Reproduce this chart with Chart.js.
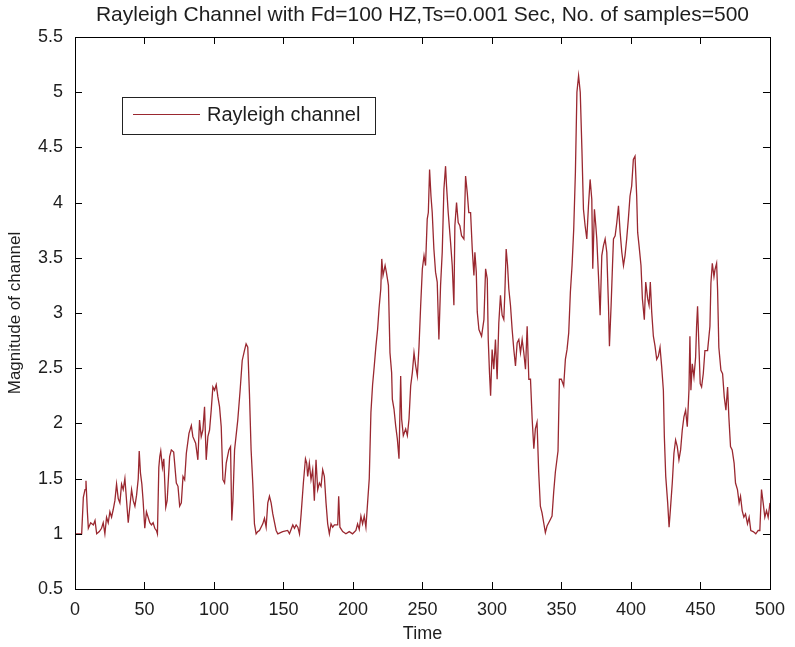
<!DOCTYPE html>
<html>
<head>
<meta charset="utf-8">
<script src="https://cdn.jsdelivr.net/npm/chart.js@4.4.0/dist/chart.umd.min.js"></script>
<style>
  html, body { margin: 0; padding: 0; background: #ffffff; }
  #wrap { width: 795px; height: 647px; }
</style>
</head>
<body>
<div id="wrap"><canvas id="c" width="795" height="647"></canvas></div>
<script>
const chartTitle = "Rayleigh Channel with Fd=100 HZ,Ts=0.001 Sec, No. of samples=500";
const seriesLabel = "Rayleigh channel";
const xTitle = "Time";
const yTitle = "Magnitude of channel";
const xTicks = [0, 50, 100, 150, 200, 250, 300, 350, 400, 450, 500];
const yTicks = [0.5, 1, 1.5, 2, 2.5, 3, 3.5, 4, 4.5, 5, 5.5];

const time = [
  0, 4.8, 6.0, 7.2, 7.9, 8.9, 9.6, 11.3, 13.2, 14.4, 15.6, 17.5, 19.1, 20.3, 21.5, 22.7, 23.9, 25.1, 26.3, 27.5,
  28.7, 29.9, 31.1, 32.3, 33.5, 34.7, 35.9, 37.1, 38.3, 39.5, 40.7, 41.9, 43.1, 44.3, 45.5, 46.2, 47.1, 48.1, 49.0, 50.2,
  51.4, 52.6, 53.8, 55.0, 56.2, 57.4, 58.6, 59.3, 60.3, 61.0, 61.7, 62.9, 63.9, 65.3, 66.3, 67.2, 68.1, 69.3, 71.0, 72.9,
  74.1, 75.3, 76.5, 77.7, 78.9, 80.1, 82.0, 83.7, 84.8, 86.8, 88.4, 89.6, 90.8, 92.0, 93.2, 94.4, 95.6, 96.8, 98.0, 99.2,
  100.4, 101.6, 102.8, 104.0, 105.2, 106.4, 107.6, 108.8, 110.7, 111.9, 112.8, 113.6, 114.8, 117.1, 118.8, 120.3, 121.9, 123.1, 124.3, 125.5,
  126.7, 127.9, 129.1, 130.3, 131.5, 132.7, 135.1, 136.3, 137.5, 138.7, 139.9, 141.1, 142.3, 144.7, 145.9, 149.4, 153.0, 154.3, 156.7, 157.9,
  159.1, 160.3, 161.5, 162.7, 164.3, 165.8, 166.7, 167.4, 168.6, 169.8, 171.0, 172.2, 173.4, 174.6, 175.8, 177.0, 178.2, 179.4, 180.6, 181.8,
  183.0, 184.2, 185.4, 186.6, 189.0, 189.7, 190.6, 192.6, 194.9, 197.3, 199.7, 202.1, 203.3, 204.5, 205.7, 206.9, 208.1, 209.3, 210.5, 211.7,
  212.9, 214.1, 215.3, 216.5, 217.7, 218.8, 220.0, 220.7, 221.6, 223.1, 224.0, 225.5, 226.6, 227.8, 228.3, 229.5, 230.7, 231.9, 233.1, 234.3,
  235.0, 236.2, 237.9, 239.1, 240.3, 241.5, 242.7, 243.9, 245.1, 246.3, 247.5, 248.7, 249.9, 251.1, 252.2, 253.4, 254.2, 255.1, 256.1, 257.0,
  258.2, 259.4, 260.6, 261.8, 263.0, 264.2, 265.4, 266.6, 267.3, 268.5, 270.2, 271.4, 272.6, 273.3, 274.5, 275.7, 276.9, 278.1, 279.8, 281.0,
  282.2, 283.3, 284.6, 285.8, 287.0, 287.7, 288.7, 289.4, 290.6, 292.5, 294.2, 295.4, 296.6, 297.3, 298.2, 299.0, 300.1, 301.3, 302.5, 303.7,
  304.9, 306.1, 307.3, 308.5, 309.2, 310.2, 311.2, 312.1, 313.3, 314.5, 315.7, 316.9, 318.1, 319.3, 320.5, 321.7, 322.9, 324.1, 325.3, 326.5,
  327.7, 328.9, 330.1, 331.2, 332.4, 333.6, 334.8, 336.0, 337.2, 338.4, 339.6, 340.8, 342.0, 343.2, 344.4, 345.6, 346.8, 347.5, 348.5, 349.9,
  351.6, 352.8, 354.0, 355.2, 356.4, 357.6, 358.8, 360.0, 361.1, 362.3, 363.5, 364.7, 365.8, 367.0, 368.2, 369.4, 370.6, 371.8, 372.5, 373.7,
  374.7, 375.4, 376.6, 377.8, 379.0, 380.2, 381.4, 382.6, 383.8, 384.5, 385.7, 386.7, 387.4, 388.6, 389.8, 391.0, 392.2, 393.4, 394.6, 395.7,
  396.9, 398.1, 399.3, 400.5, 401.7, 402.9, 404.1, 404.8, 405.8, 407.2, 408.2, 409.6, 410.6, 412.0, 413.0, 413.9, 414.9, 416.1, 417.3, 418.5,
  419.7, 420.9, 422.1, 423.3, 424.0, 425.0, 426.4, 427.4, 428.3, 429.7, 430.9, 432.1, 433.3, 434.5, 435.7, 436.9, 438.1, 439.3, 440.5, 441.7,
  442.4, 443.1, 444.1, 445.3, 446.5, 447.2, 447.9, 448.9, 449.8, 450.8, 452.0, 453.2, 455.1, 456.8, 457.5, 458.5, 459.7, 460.4, 461.6, 462.3,
  463.2, 464.7, 465.9, 467.1, 468.3, 469.5, 470.4, 471.6, 472.8, 474.2, 475.2, 476.6, 477.8, 478.8, 480.0, 481.2, 482.4, 483.8, 485.0, 486.2,
  487.9, 489.8, 491.5, 492.7, 493.9, 495.1, 496.3, 497.5, 498.7, 500.0
];

const magnitude = [
  1.00, 1.00, 1.33, 1.40, 1.48, 1.20, 1.05, 1.10, 1.08, 1.12, 1.00, 1.02, 1.05, 1.10, 1.00, 1.15, 1.10, 1.20, 1.15, 1.22,
  1.30, 1.45, 1.32, 1.28, 1.45, 1.40, 1.50, 1.30, 1.10, 1.25, 1.40, 1.30, 1.25, 1.35, 1.50, 1.75, 1.55, 1.45, 1.30, 1.05,
  1.20, 1.15, 1.10, 1.08, 1.10, 1.05, 1.03, 1.00, 1.60, 1.70, 1.75, 1.60, 1.68, 1.24, 1.30, 1.50, 1.70, 1.76, 1.74, 1.46,
  1.43, 1.25, 1.28, 1.52, 1.49, 1.73, 1.91, 1.98, 1.88, 1.82, 1.67, 2.03, 1.88, 1.94, 2.15, 1.67, 1.88, 1.94, 2.12, 2.33,
  2.30, 2.35, 2.24, 2.15, 1.97, 1.49, 1.46, 1.64, 1.76, 1.79, 1.12, 1.30, 1.76, 2.03, 2.30, 2.57, 2.66, 2.72, 2.69, 2.27,
  1.76, 1.46, 1.09, 1.00, 1.02, 1.03, 1.09, 1.14, 1.06, 1.28, 1.34, 1.28, 1.18, 1.03, 1.00, 1.02, 1.03, 1.00, 1.08, 1.05,
  1.08, 1.06, 1.00, 1.18, 1.46, 1.68, 1.64, 1.52, 1.64, 1.49, 1.58, 1.30, 1.67, 1.40, 1.46, 1.43, 1.58, 1.52, 1.28, 1.09,
  1.00, 1.09, 1.06, 1.08, 1.08, 1.34, 1.06, 1.02, 1.00, 1.02, 1.00, 1.03, 1.09, 1.04, 1.16, 1.09, 1.16, 1.06, 1.28, 1.50,
  2.10, 2.35, 2.52, 2.70, 2.85, 3.05, 3.22, 3.49, 3.34, 3.43, 3.37, 3.25, 2.64, 2.46, 2.22, 2.13, 1.98, 1.86, 1.68, 2.43,
  2.04, 1.89, 1.95, 1.89, 2.04, 2.34, 2.46, 2.64, 2.52, 2.43, 2.70, 3.07, 3.40, 3.52, 3.43, 3.85, 3.91, 4.30, 4.06, 3.91,
  3.58, 3.37, 3.28, 2.76, 3.25, 3.55, 4.12, 4.33, 4.15, 3.91, 3.64, 3.43, 3.07, 3.79, 4.00, 3.82, 3.79, 3.70, 3.67, 4.24,
  4.09, 3.91, 3.91, 3.58, 3.34, 3.55, 3.37, 3.01, 2.85, 2.79, 2.94, 3.40, 3.31, 2.76, 2.46, 2.25, 2.67, 2.49, 2.76, 2.40,
  2.91, 3.16, 2.98, 2.94, 3.16, 3.58, 3.43, 3.22, 3.07, 2.85, 2.67, 2.52, 2.73, 2.76, 2.64, 2.76, 2.64, 2.49, 2.88, 2.40,
  2.40, 2.04, 1.77, 1.95, 2.01, 1.56, 1.25, 1.19, 1.10, 1.01, 1.07, 1.10, 1.13, 1.16, 1.38, 1.56, 1.68, 1.75, 2.40, 2.40,
  2.34, 2.58, 2.67, 2.82, 3.19, 3.43, 3.76, 4.27, 5.00, 5.15, 5.00, 4.48, 3.94, 3.79, 3.67, 3.97, 4.21, 4.03, 3.40, 3.94,
  3.79, 3.67, 3.34, 2.98, 3.52, 3.61, 3.67, 3.55, 3.07, 2.70, 3.07, 3.43, 3.67, 3.70, 3.82, 3.97, 3.73, 3.55, 3.43, 3.52,
  3.67, 3.85, 4.06, 4.15, 4.39, 4.42, 4.06, 3.73, 3.61, 3.43, 3.13, 2.94, 3.28, 3.13, 3.07, 3.28, 3.01, 2.79, 2.70, 2.58,
  2.61, 2.69, 2.51, 2.30, 1.88, 1.52, 1.28, 1.06, 1.21, 1.46, 1.73, 1.85, 1.79, 1.67, 1.76, 1.94, 2.06, 2.12, 1.97, 2.30,
  2.79, 2.30, 2.54, 2.42, 2.60, 2.88, 3.06, 2.69, 2.36, 2.33, 2.45, 2.66, 2.66, 2.88, 3.27, 3.45, 3.33, 3.39, 3.45, 3.21,
  2.69, 2.48, 2.45, 2.24, 2.12, 2.33, 2.06, 1.79, 1.76, 1.64, 1.46, 1.40, 1.28, 1.34, 1.21, 1.15, 1.18, 1.09, 1.15, 1.03,
  1.02, 1.00, 1.03, 1.03, 1.40, 1.28, 1.15, 1.21, 1.15, 1.28
];

const points = time.map((t, i) => ({ x: t, y: magnitude[i] }));
const lineColor = '#9a2830';
const textColor = '#1e1e1e';
const FONT = "'Liberation Sans', Arial, sans-serif";

const matlabAxes = {
  id: 'matlabAxes',
  afterDatasetsDraw(chart) {
    const { ctx, chartArea: a, scales } = chart;
    const L = 7;
    ctx.save();
    // title centred over the axes
    ctx.fillStyle = textColor;
    ctx.font = "21px " + FONT;
    ctx.textAlign = 'center';
    ctx.textBaseline = 'middle';
    ctx.fillText(chartTitle, (a.left + a.right) / 2, 15);

    ctx.strokeStyle = '#000';
    ctx.lineWidth = 1;
    ctx.beginPath();
    xTicks.forEach(v => {
      const px = Math.round(scales.x.getPixelForValue(v)) + 0.5;
      ctx.moveTo(px, a.bottom); ctx.lineTo(px, a.bottom - L);
      ctx.moveTo(px, a.top); ctx.lineTo(px, a.top + L);
    });
    yTicks.forEach(v => {
      const py = Math.round(scales.y.getPixelForValue(v)) + 0.5;
      ctx.moveTo(a.left, py); ctx.lineTo(a.left + L, py);
      ctx.moveTo(a.right, py); ctx.lineTo(a.right - L, py);
    });
    ctx.stroke();
    ctx.strokeRect(Math.round(a.left) + 0.5, Math.round(a.top) + 0.5,
                   Math.round(a.right - a.left), Math.round(a.bottom - a.top));
    // legend box inside axes
    const bx = a.left + 47, by = a.top + 60, bw = 253, bh = 37;
    ctx.fillStyle = '#fff';
    ctx.fillRect(bx, by, bw, bh);
    ctx.strokeStyle = '#222';
    ctx.strokeRect(Math.round(bx) + 0.5, Math.round(by) + 0.5, bw, bh);
    ctx.strokeStyle = lineColor;
    ctx.lineWidth = 1.2;
    ctx.beginPath();
    ctx.moveTo(bx + 11, by + 17.5); ctx.lineTo(bx + 78, by + 17.5);
    ctx.stroke();
    ctx.fillStyle = textColor;
    ctx.font = "20px " + FONT;
    ctx.textBaseline = 'middle';
    ctx.textAlign = 'left';
    ctx.fillText(chart.data.datasets[0].label, bx + 85, by + 18);
    ctx.restore();
  }
};

new Chart(document.getElementById('c'), {
  type: 'line',
  data: {
    datasets: [{
      label: seriesLabel,
      data: points,
      borderColor: lineColor,
      borderWidth: 1.3,
      pointRadius: 0,
      tension: 0,
      fill: false
    }]
  },
  options: {
    responsive: false,
    animation: false,
    layout: { padding: { left: 0, right: 22, top: 37, bottom: 0 } },
    plugins: {
      legend: { display: false },
      tooltip: { enabled: false },
      title: { display: false }
    },
    scales: {
      x: {
        type: 'linear',
        min: 0, max: 500,
        afterBuildTicks: s => { s.ticks = xTicks.map(v => ({ value: v })); },
        afterFit: s => { s.height = 58; },
        grid: { display: false, drawTicks: false },
        border: { display: false },
        ticks: { color: textColor, font: { family: FONT, size: 18 }, padding: 10, maxRotation: 0, autoSkip: false,
                 callback: v => String(v) },
        title: { display: true, text: xTitle, color: textColor, font: { family: FONT, size: 18 }, padding: { top: 0, bottom: 2 } }
      },
      y: {
        type: 'linear',
        min: 0.5, max: 5.5,
        afterBuildTicks: s => { s.ticks = yTicks.map(v => ({ value: v })); },
        afterFit: s => { s.width = 75; },
        grid: { display: false, drawTicks: false },
        border: { display: false },
        ticks: { color: textColor, font: { family: FONT, size: 18 }, padding: 12, autoSkip: false,
                 callback: v => String(v) },
        title: { display: true, text: yTitle, color: textColor, font: { family: FONT, size: 17 }, padding: { top: 5, bottom: 0 } }
      }
    }
  },
  plugins: [matlabAxes]
});
</script>
</body>
</html>
